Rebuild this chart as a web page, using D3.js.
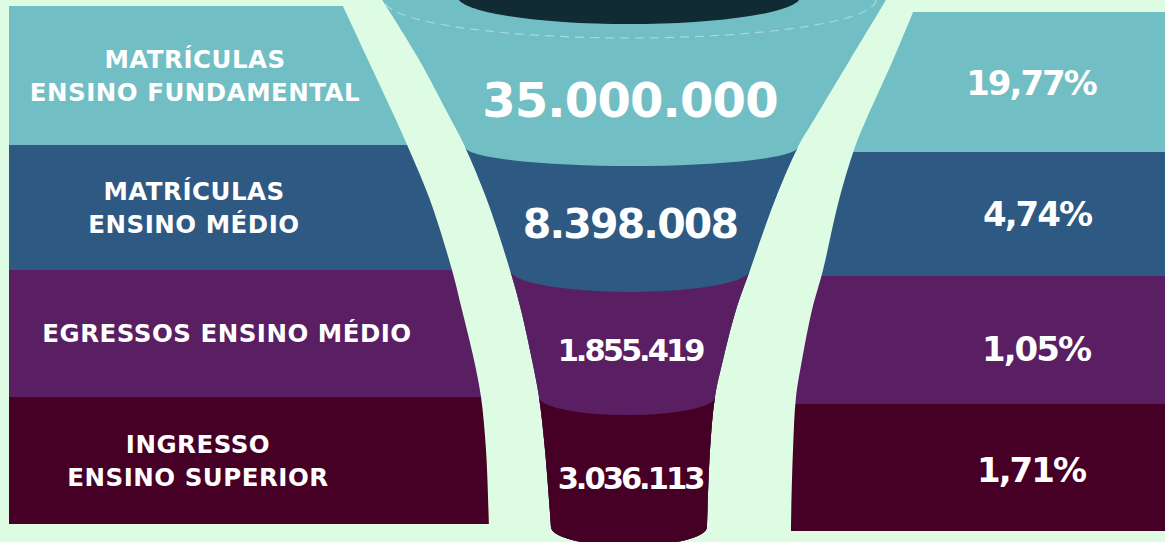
<html>
<head>
<meta charset="utf-8">
<script src="https://d3js.org/d3.v7.min.js"></script>
<style>
  body { margin: 0; background: #defce3; }
  text { font-family: "DejaVu Sans", sans-serif; font-weight: bold; fill: #ffffff; }
</style>
</head>
<body>
<div id="chart"></div>
<script>
// ---- data
var stageLabels = [
  ["MATRÍCULAS", "ENSINO FUNDAMENTAL"],
  ["MATRÍCULAS", "ENSINO MÉDIO"],
  ["EGRESSOS ENSINO MÉDIO"],
  ["INGRESSO", "ENSINO SUPERIOR"]
]
var counts = [35000000, 8398008, 1855419, 3036113]
var shares = [19.77, 4.74, 1.05, 1.71]
var colors = ["#71bec4", "#2e5982", "#5a1e62", "#460026"]

// ---- layout
var width = 1165, height = 542
var leftRows = [6, 145, 270, 397, 524]
var rightRows = [12, 152, 276, 404, 531]
var labelX = [195, 194, 227, 198]
var valueY = [100, 223, 350, 478]
var valueSize = [48, 41, 30.5, 30.5]
var valueSpacing = [-0.8, -1.8, -3, -3]
var shareX = [1031, 1037, 1036, 1031]
var shareY = [83, 214, 349, 470]

// curved edges, sampled at the same heights
var ys      = [-20, 0, 60, 120, 147, 200, 270, 310, 360, 397, 450, 527, 560]
var panelL  = [330, 340, 368, 396, 408, 430, 452, 462, 474, 481, 486, 489, 490]
var funnelL = [369, 382, 419, 451, 465, 487, 510, 521, 532, 539, 545, 551, 553]
var funnelR = [897, 886, 850, 814, 798, 775, 750, 736, 723, 715, 710, 707, 706]
var panelR  = [926, 918, 893, 866, 855, 839, 823, 812, 802, 796, 793, 791, 791]

// funnel band borders (edge height, ellipse depth)
var borders = [{y: 147, ry: 19}, {y: 270, ry: 22}, {y: 397, ry: 18}, {y: 527, ry: 19}]

var locale = d3.formatLocale({decimal: ",", thousands: ".", grouping: [3], currency: ["R$", ""]})
var fmtCount = locale.format(",d")
var fmtShare = locale.format(",.2f")

var xFL = d3.scaleLinear().domain(ys).range(funnelL)
var xFR = d3.scaleLinear().domain(ys).range(funnelR)

var svg = d3.select("#chart").append("svg")
  .attr("width", width).attr("height", height)

svg.append("rect").attr("width", width).attr("height", height).attr("fill", "#defce3")

var defs = svg.append("defs")
var line = d3.line().curve(d3.curveCatmullRom)

// left panel clip
defs.append("clipPath").attr("id", "clipLeft").append("path")
  .attr("d", d3.area().curve(d3.curveCatmullRom)
    .y(function(d){ return d[1] }).x0(0).x1(function(d){ return d[0] })(ys.map(function(y, i){ return [panelL[i], y] })))

// right panel clip
defs.append("clipPath").attr("id", "clipRight").append("path")
  .attr("d", d3.area().curve(d3.curveCatmullRom)
    .y(function(d){ return d[1] }).x0(function(d){ return d[0] }).x1(width + 20)(ys.map(function(y, i){ return [panelR[i], y] })))

// funnel silhouette
var last = borders[3]
var leftPts = [], rightPts = []
ys.forEach(function(y, i){
  if (y <= last.y) { leftPts.push([funnelL[i], y]); rightPts.push([funnelR[i], y]) }
})
var bl = xFL(last.y), br = xFR(last.y)
var funnelPath = line(leftPts)
  + "A" + ((br - bl) / 2) + "," + last.ry + " 0 0 0 " + br + "," + last.y
  + line(rightPts.reverse()).replace(/^M/, "L") + "Z"
defs.append("clipPath").attr("id", "clipFunnel").append("path").attr("d", funnelPath)

// left panel rows
var left = svg.append("g").attr("clip-path", "url(#clipLeft)")
left.selectAll("rect").data(colors).enter().append("rect")
  .attr("x", 9).attr("width", 700)
  .attr("y", function(d, i){ return leftRows[i] })
  .attr("height", function(d, i){ return leftRows[i + 1] - leftRows[i] })
  .attr("fill", function(d){ return d })

// right panel rows
var right = svg.append("g").attr("clip-path", "url(#clipRight)")
right.selectAll("rect").data(colors).enter().append("rect")
  .attr("x", 700).attr("width", 500)
  .attr("y", function(d, i){ return rightRows[i] })
  .attr("height", function(d, i){ return rightRows[i + 1] - rightRows[i] })
  .attr("fill", function(d){ return d })

// funnel
var funnel = svg.append("g").attr("clip-path", "url(#clipFunnel)")
funnel.append("path").attr("d", funnelPath).attr("fill", colors[0])
colors.slice(1).forEach(function(c, i){
  var b = borders[i]
  var x0 = xFL(b.y), x1 = xFR(b.y)
  funnel.append("path")
    .attr("d", "M" + x0 + "," + b.y + "A" + ((x1 - x0) / 2) + "," + b.ry + " 0 0 0 " + x1 + "," + b.y
      + "L" + (x1 + 60) + "," + b.y + "L" + (x1 + 60) + "," + (height + 40)
      + "L" + (x0 - 60) + "," + (height + 40) + "L" + (x0 - 60) + "," + b.y + "Z")
    .attr("fill", c)
})
// rim of the funnel mouth
funnel.append("ellipse")
  .attr("cx", 630).attr("cy", 0).attr("rx", 246).attr("ry", 38)
  .attr("fill", "none").attr("stroke", "#b4e2dc").attr("stroke-width", 1.2)
  .attr("stroke-dasharray", "9 6").attr("opacity", 0.8)
funnel.append("ellipse")
  .attr("cx", 629).attr("cy", -3).attr("rx", 171).attr("ry", 27)
  .attr("fill", "#112b34")

// left labels
var labels = svg.append("g")
stageLabels.forEach(function(lines, i){
  var mid = (leftRows[i] + leftRows[i + 1]) / 2
  lines.forEach(function(t, j){
    labels.append("text")
      .attr("x", labelX[i])
      .attr("y", mid + 8.5 + (j - (lines.length - 1) / 2) * 33)
      .attr("text-anchor", "middle")
      .style("font-size", "24.5px")
      .style("letter-spacing", "0.5px")
      .text(t)
  })
})

// funnel values
svg.append("g").selectAll("text").data(counts).enter().append("text")
  .attr("x", 630)
  .attr("y", function(d, i){ return valueY[i] })
  .attr("dy", "0.36em")
  .attr("text-anchor", "middle")
  .style("font-size", function(d, i){ return valueSize[i] + "px" })
  .style("letter-spacing", function(d, i){ return valueSpacing[i] + "px" })
  .text(function(d){ return fmtCount(d) })

// shares
svg.append("g").selectAll("text").data(shares).enter().append("text")
  .attr("x", function(d, i){ return shareX[i] })
  .attr("y", function(d, i){ return shareY[i] })
  .attr("dy", "0.36em")
  .attr("text-anchor", "middle")
  .style("font-size", "34px")
  .style("letter-spacing", "-2px")
  .text(function(d){ return fmtShare(d) + "%" })
</script>
</body>
</html>
